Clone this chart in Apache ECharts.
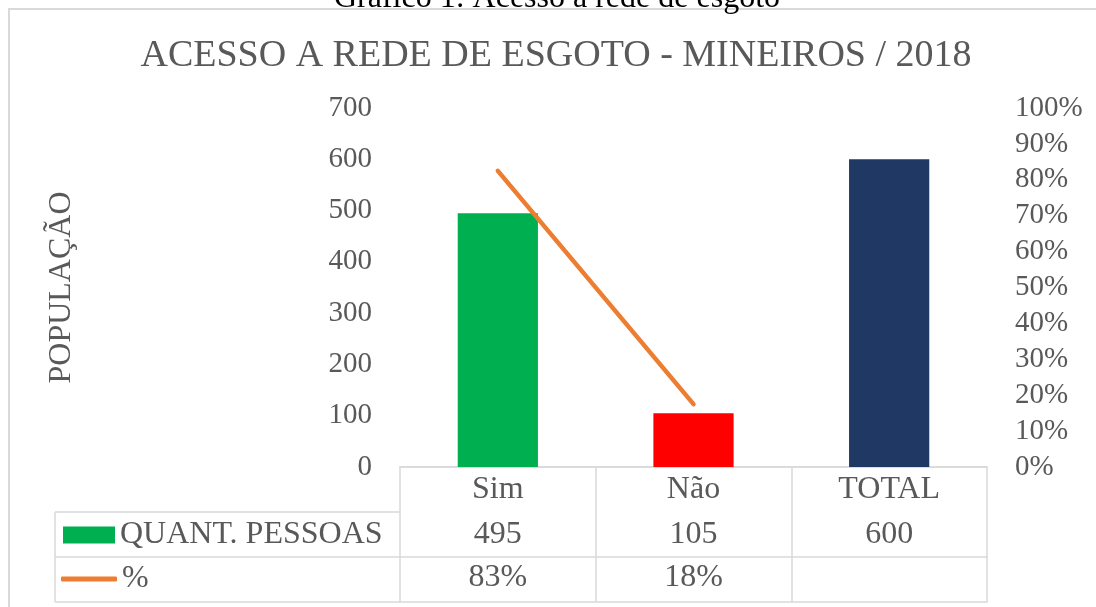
<!DOCTYPE html>
<html>
<head>
<meta charset="utf-8">
<script src="https://cdn.jsdelivr.net/npm/echarts@6/dist/echarts.min.js"></script>
<style>
  html, body { margin: 0; padding: 0; background: #fff; }
  #chart { width: 1096px; height: 607px; }
</style>
</head>
<body>
<div id="chart"></div>
<script>
// chart data
const categories = ['Sim', 'Não', 'TOTAL'];
const pessoas = [495, 105, 600];
const percentual = [0.825, 0.175, null];
const barColors = ['#00B050', '#FF0000', '#203864'];
// data table rows under the axis
const pessoasLabels = ['495', '105', '600'];
const percentLabels = ['83%', '18%', ''];

const FONT = '"Liberation Serif", "Times New Roman", serif';
const GREY = '#595959';
const RULE = '#d9d9d9';
const TABLE_SIZE = 32;

const chart = echarts.init(document.getElementById('chart'));

// one category axis per table row, stacked with offset
const rowAxis = (data, offset, showLabel, margin) => ({
  type: 'category',
  data: data,
  position: 'bottom',
  offset: offset,
  axisLine: { show: true, lineStyle: { color: RULE, width: 1.5 } },
  axisTick: { show: false },
  axisLabel: {
    show: showLabel,
    interval: 0,
    margin: margin,
    fontFamily: FONT,
    fontSize: TABLE_SIZE,
    color: GREY,
  },
  splitLine: { show: false },
});

const option = {
  backgroundColor: '#fff',
  animation: false,
  title: {
    text: 'ACESSO A REDE DE ESGOTO - MINEIROS / 2018',
    left: 551,
    top: 32,
    textAlign: 'center',
    textStyle: {
      fontFamily: FONT,
      fontSize: 38,
      fontWeight: 'normal',
      color: GREY,
    },
  },
  legend: [
    {
      data: ['QUANT. PESSOAS'],
      left: 63,
      top: 519,
      padding: 0,
      icon: 'rect',
      itemWidth: 52,
      itemHeight: 17,
      selectedMode: false,
      textStyle: { fontFamily: FONT, fontSize: TABLE_SIZE, color: GREY },
    },
    {
      data: [{ name: '%', icon: 'roundRect' }],
      left: 61,
      top: 563,
      padding: 0,
      itemWidth: 56,
      itemHeight: 5,
      selectedMode: false,
      textStyle: { fontFamily: FONT, fontSize: TABLE_SIZE, color: GREY },
    },
  ],
  grid: { left: 400, right: 109, top: 108, bottom: 140, containLabel: false },
  xAxis: [
    {
      type: 'category',
      data: categories,
      position: 'bottom',
      axisLine: { show: true, lineStyle: { color: RULE, width: 1.5 } },
      // boundary ticks double as the table's column rules
      axisTick: {
        show: true,
        alignWithLabel: false,
        length: 135,
        lineStyle: { color: RULE, width: 1.5 },
      },
      axisLabel: {
        interval: 0,
        margin: 7,
        fontFamily: FONT,
        fontSize: TABLE_SIZE,
        color: GREY,
      },
      splitLine: { show: false },
    },
    rowAxis(pessoasLabels, 45, true, 7),
    rowAxis(percentLabels, 90, true, 5),
    rowAxis(categories, 135, false, 5),
  ],
  yAxis: [
    {
      type: 'value',
      min: 0,
      max: 700,
      interval: 100,
      name: 'POPULAÇÃO',
      nameLocation: 'middle',
      nameGap: 322,
      nameTextStyle: { fontFamily: FONT, fontSize: 32, color: GREY },
      axisLine: { show: false },
      axisTick: { show: false },
      splitLine: { show: false },
      axisLabel: { margin: 28, fontFamily: FONT, fontSize: 29, color: GREY },
    },
    {
      type: 'value',
      min: 0,
      max: 1,
      interval: 0.1,
      position: 'right',
      axisLine: { show: false },
      axisTick: { show: false },
      splitLine: { show: false },
      axisLabel: {
        margin: 28,
        fontFamily: FONT,
        fontSize: 29,
        color: GREY,
        formatter: (v) => Math.round(v * 100) + '%',
      },
    },
  ],
  series: [
    {
      name: 'QUANT. PESSOAS',
      type: 'bar',
      xAxisIndex: 0,
      yAxisIndex: 0,
      barWidth: '41%',
      itemStyle: { color: barColors[0] },
      data: pessoas.map((v, i) => ({ value: v, itemStyle: { color: barColors[i] } })),
    },
    {
      name: '%',
      type: 'line',
      xAxisIndex: 0,
      yAxisIndex: 1,
      symbol: 'none',
      itemStyle: { color: '#ED7D31' },
      lineStyle: { color: '#ED7D31', width: 4.5, cap: 'round' },
      data: percentual,
    },
  ],
  graphic: [
    // caption above the frame (cut off by the page edge)
    {
      type: 'text',
      x: 557,
      y: 15,
      style: {
        text: 'Gráfico 1: Acesso à rede de esgoto',
        align: 'center',
        verticalAlign: 'bottom',
        font: '32px ' + FONT,
        fill: '#000',
      },
    },
    // outer frame
    {
      type: 'rect',
      shape: { x: 9, y: 9, width: 1200, height: 700 },
      style: { fill: 'none', stroke: RULE, lineWidth: 2 },
      silent: true,
      z: -1,
    },
    // legend column of the data table
    { type: 'line', shape: { x1: 55, y1: 512, x2: 400, y2: 512 }, style: { stroke: RULE, lineWidth: 1.5 } },
    { type: 'line', shape: { x1: 55, y1: 557, x2: 400, y2: 557 }, style: { stroke: RULE, lineWidth: 1.5 } },
    { type: 'line', shape: { x1: 55, y1: 602, x2: 400, y2: 602 }, style: { stroke: RULE, lineWidth: 1.5 } },
    { type: 'line', shape: { x1: 55, y1: 512, x2: 55, y2: 602 }, style: { stroke: RULE, lineWidth: 1.5 } },
  ],
};

chart.setOption(option);
</script>
</body>
</html>
